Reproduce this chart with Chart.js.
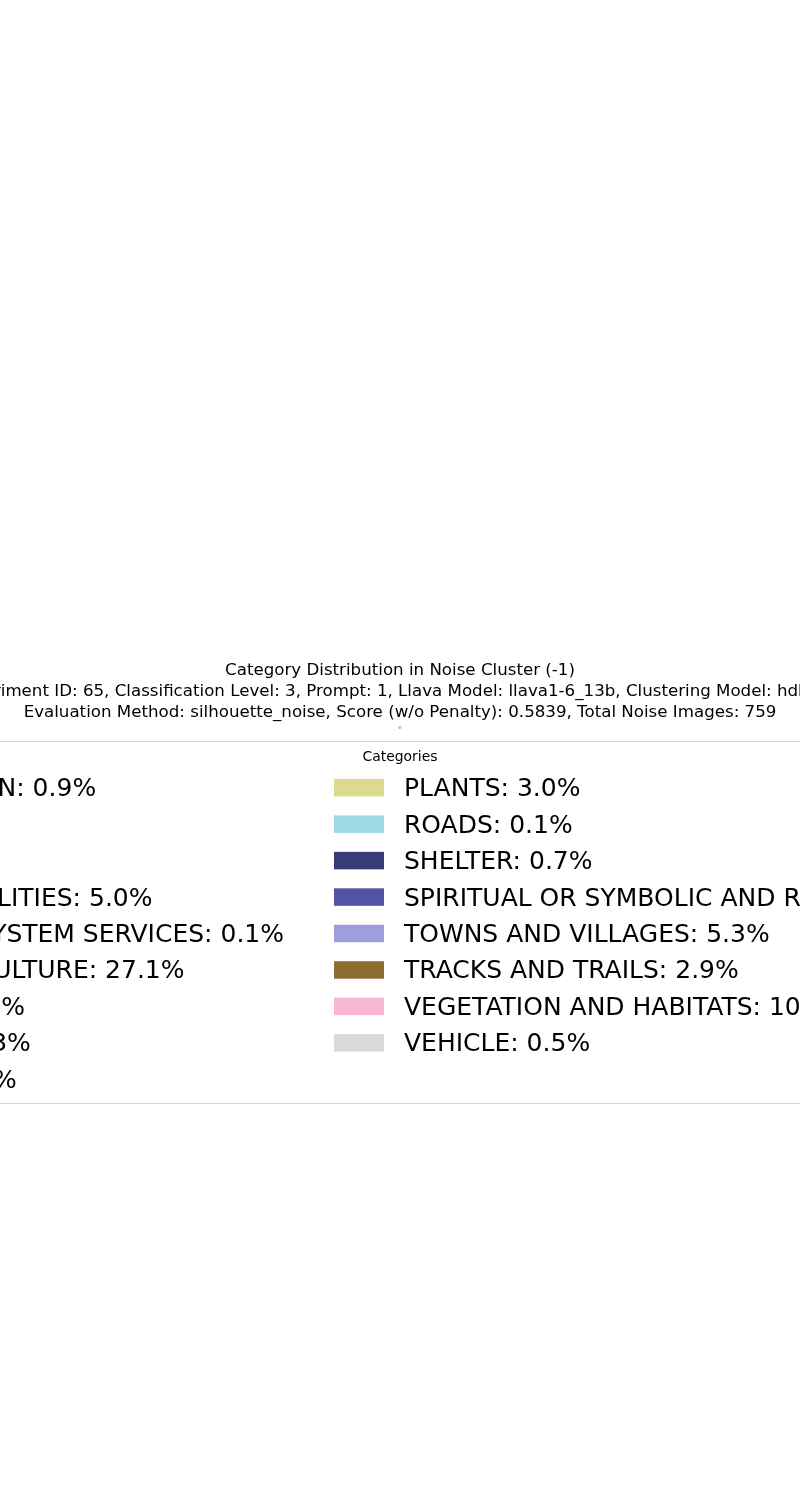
<!DOCTYPE html>
<html>
<head>
<meta charset="utf-8">
<script src="https://cdn.jsdelivr.net/npm/chart.js@4.4.1/dist/chart.umd.min.js"></script>
<style>
  html, body { margin: 0; padding: 0; background: #ffffff; }
  #wrap { width: 800px; height: 1500px; position: relative; }
  canvas { display: block; }
</style>
</head>
<body>
<div id="wrap"><canvas id="chart" width="800" height="1500"></canvas></div>
<script>
// ---- data ----
const categories = [
  "ACCOMMODATION",
  "ANIMALS",
  "BIRDS",
  "COMMUNAL FACILITIES",
  "CULTURAL ECOSYSTEM SERVICES",
  "DRYLAND AGRICULTURE",
  "LANDMARKS",
  "OPEN FIELDS",
  "PARKLANDS",
  "PLANTS",
  "ROADS",
  "SHELTER",
  "SPIRITUAL OR SYMBOLIC AND RELIGIOUS",
  "TOWNS AND VILLAGES",
  "TRACKS AND TRAILS",
  "VEGETATION AND HABITATS",
  "VEHICLE"
];
const percentages = [0.9, 8.6, 6.4, 5.0, 0.1, 27.1, 4.7, 3.3, 2.8, 3.0, 0.1, 0.7, 7.8, 5.3, 2.9, 10.8, 0.5];
const sliceColors = [
  "#1f77b4", "#aec7e8", "#ff7f0e", "#ffbb78", "#2ca02c", "#98df8a",
  "#d62728", "#ff9896", "#9467bd",
  "#dbdb8d", "#9edae5", "#393b79", "#5254a3", "#9c9ede", "#8c6d31", "#f7b6d2", "#d9d9d9"
];
const titleLines = [
  "Category Distribution in Noise Cluster (-1)",
  "Experiment ID: 65, Classification Level: 3, Prompt: 1, Llava Model: llava1-6_13b, Clustering Model: hdbscan",
  "Evaluation Method: silhouette_noise, Score (w/o Penalty): 0.5839, Total Noise Images: 759"
];
const legendTitle = "Categories";

// ---- matplotlib-style two-column legend (column-first) ----
const mplLegend = {
  id: 'mplLegend',
  afterDraw(chart) {
    const ctx = chart.ctx;
    const labels = chart.data.labels;
    const ds = chart.data.datasets[0];
    const texts = labels.map((l, i) => l + ': ' + ds.data[i].toFixed(1) + '%');
    const nRows = Math.ceil(texts.length / 2);
    const fs = 25;
    const handleW = 2 * fs, handleH = 0.7 * fs, handlePad = 0.8 * fs, colSpace = 2 * fs;
    const rightHandleX = 334;
    const row0 = 787.7, rowStep = 36.45;
    const frameTop = 741.5, frameBottom = 1103.5;

    ctx.save();
    ctx.font = fs + 'px "DejaVu Sans"';
    const leftW = Math.max(...texts.slice(0, nRows).map(t => ctx.measureText(t).width));
    const rightW = Math.max(...texts.slice(nRows).map(t => ctx.measureText(t).width));
    const leftTextX = rightHandleX - colSpace - leftW;
    const leftHandleX = leftTextX - handlePad - handleW;
    const rightTextX = rightHandleX + handleW + handlePad;

    // frame
    const fx0 = leftHandleX - 0.4 * fs - 4, fx1 = rightTextX + rightW + 0.4 * fs + 4;
    ctx.fillStyle = 'rgba(255,255,255,0.8)';
    ctx.strokeStyle = '#d6d6d6';
    ctx.lineWidth = 1;
    ctx.beginPath();
    if (ctx.roundRect) ctx.roundRect(fx0, frameTop, fx1 - fx0, frameBottom - frameTop, 5);
    else ctx.rect(fx0, frameTop, fx1 - fx0, frameBottom - frameTop);
    ctx.fill();
    ctx.stroke();

    // legend title
    ctx.fillStyle = '#000000';
    ctx.font = '13.9px "DejaVu Sans"';
    ctx.textAlign = 'center';
    ctx.textBaseline = 'middle';
    ctx.fillText(legendTitle, 400, 757);

    // entries
    ctx.font = fs + 'px "DejaVu Sans"';
    ctx.textAlign = 'left';
    ctx.textBaseline = 'alphabetic';
    texts.forEach((t, i) => {
      const col = i < nRows ? 0 : 1;
      const r = col === 0 ? i : i - nRows;
      const cy = row0 + r * rowStep;
      const hx = col === 0 ? leftHandleX : rightHandleX;
      const tx = col === 0 ? leftTextX : rightTextX;
      ctx.fillStyle = ds.backgroundColor[i];
      ctx.fillRect(hx, cy - handleH / 2, handleW, handleH);
      ctx.fillStyle = '#000000';
      ctx.fillText(t, tx, cy + 8.5);
    });
    ctx.restore();
  }
};

new Chart(document.getElementById('chart'), {
  type: 'pie',
  data: {
    labels: categories,
    datasets: [{
      data: percentages,
      backgroundColor: sliceColors,
      borderWidth: 0
    }]
  },
  options: {
    responsive: false,
    animation: false,
    radius: 1.5,
    layout: { padding: { top: 660.5, bottom: 769.5, left: -60, right: -60 } },
    plugins: {
      legend: { display: false },
      tooltip: { enabled: false },
      title: {
        display: true,
        text: titleLines,
        color: '#000000',
        font: { family: '"DejaVu Sans"', size: 16.67, weight: 'normal', lineHeight: 21 / 16.67 },
        padding: { top: 0, bottom: 1 }
      }
    }
  },
  plugins: [mplLegend]
});
</script>
</body>
</html>
